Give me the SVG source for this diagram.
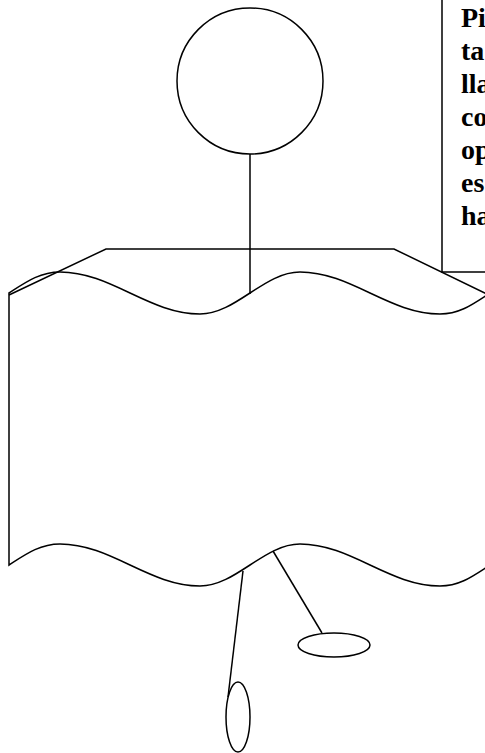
<svg xmlns="http://www.w3.org/2000/svg" width="485" height="753" viewBox="0 0 485 753">
<style>
.s{fill:none;stroke:#000;stroke-width:1.5}
.t{font-family:"Liberation Serif","Times New Roman",serif;font-weight:bold;font-size:28px;fill:#000}
</style>
<rect width="485" height="753" fill="#fff"/>
<g id="circle"><circle class="s" cx="250" cy="81" r="73"/></g>
<g id="roof"><polyline class="s" points="9,295 106,249 394,249 489,295"/></g>
<g id="tape"><path class="s" d="M9,565 C26,554 40,544 60,544 C111,544 149,586 200,586 C236,586 264,544 300,544 C351,544 389,586 440,586 C460,586 473,576 490,565 L490,293 C473,304 460,314 440,314 C389,314 351,272 300,272 C264,272 236,314 200,314 C149,314 111,272 60,272 C40,272 26,282 9,293 Z"/></g>
<g id="note">
<polyline class="s" points="442,0 442,272 486,272"/>
<text class="t" x="461" y="27">Pi</text>
<text class="t" x="461" y="60">ta</text>
<text class="t" x="461" y="93">lla</text>
<text class="t" x="461" y="126">co</text>
<text class="t" x="461" y="159">op</text>
<text class="t" x="461" y="192">es</text>
<text class="t" x="461" y="225">ha</text>
</g>
<g id="ellipse-h"><ellipse class="s" cx="334" cy="645" rx="36" ry="12"/></g>
<g id="ellipse-v"><ellipse class="s" cx="238" cy="717" rx="12" ry="35"/></g>
<g id="connectors">
<line class="s" x1="250" y1="154" x2="250" y2="294"/>
<line class="s" x1="243" y1="571" x2="228" y2="697"/>
<line class="s" x1="273" y1="551" x2="322" y2="633"/>
</g>
</svg>
